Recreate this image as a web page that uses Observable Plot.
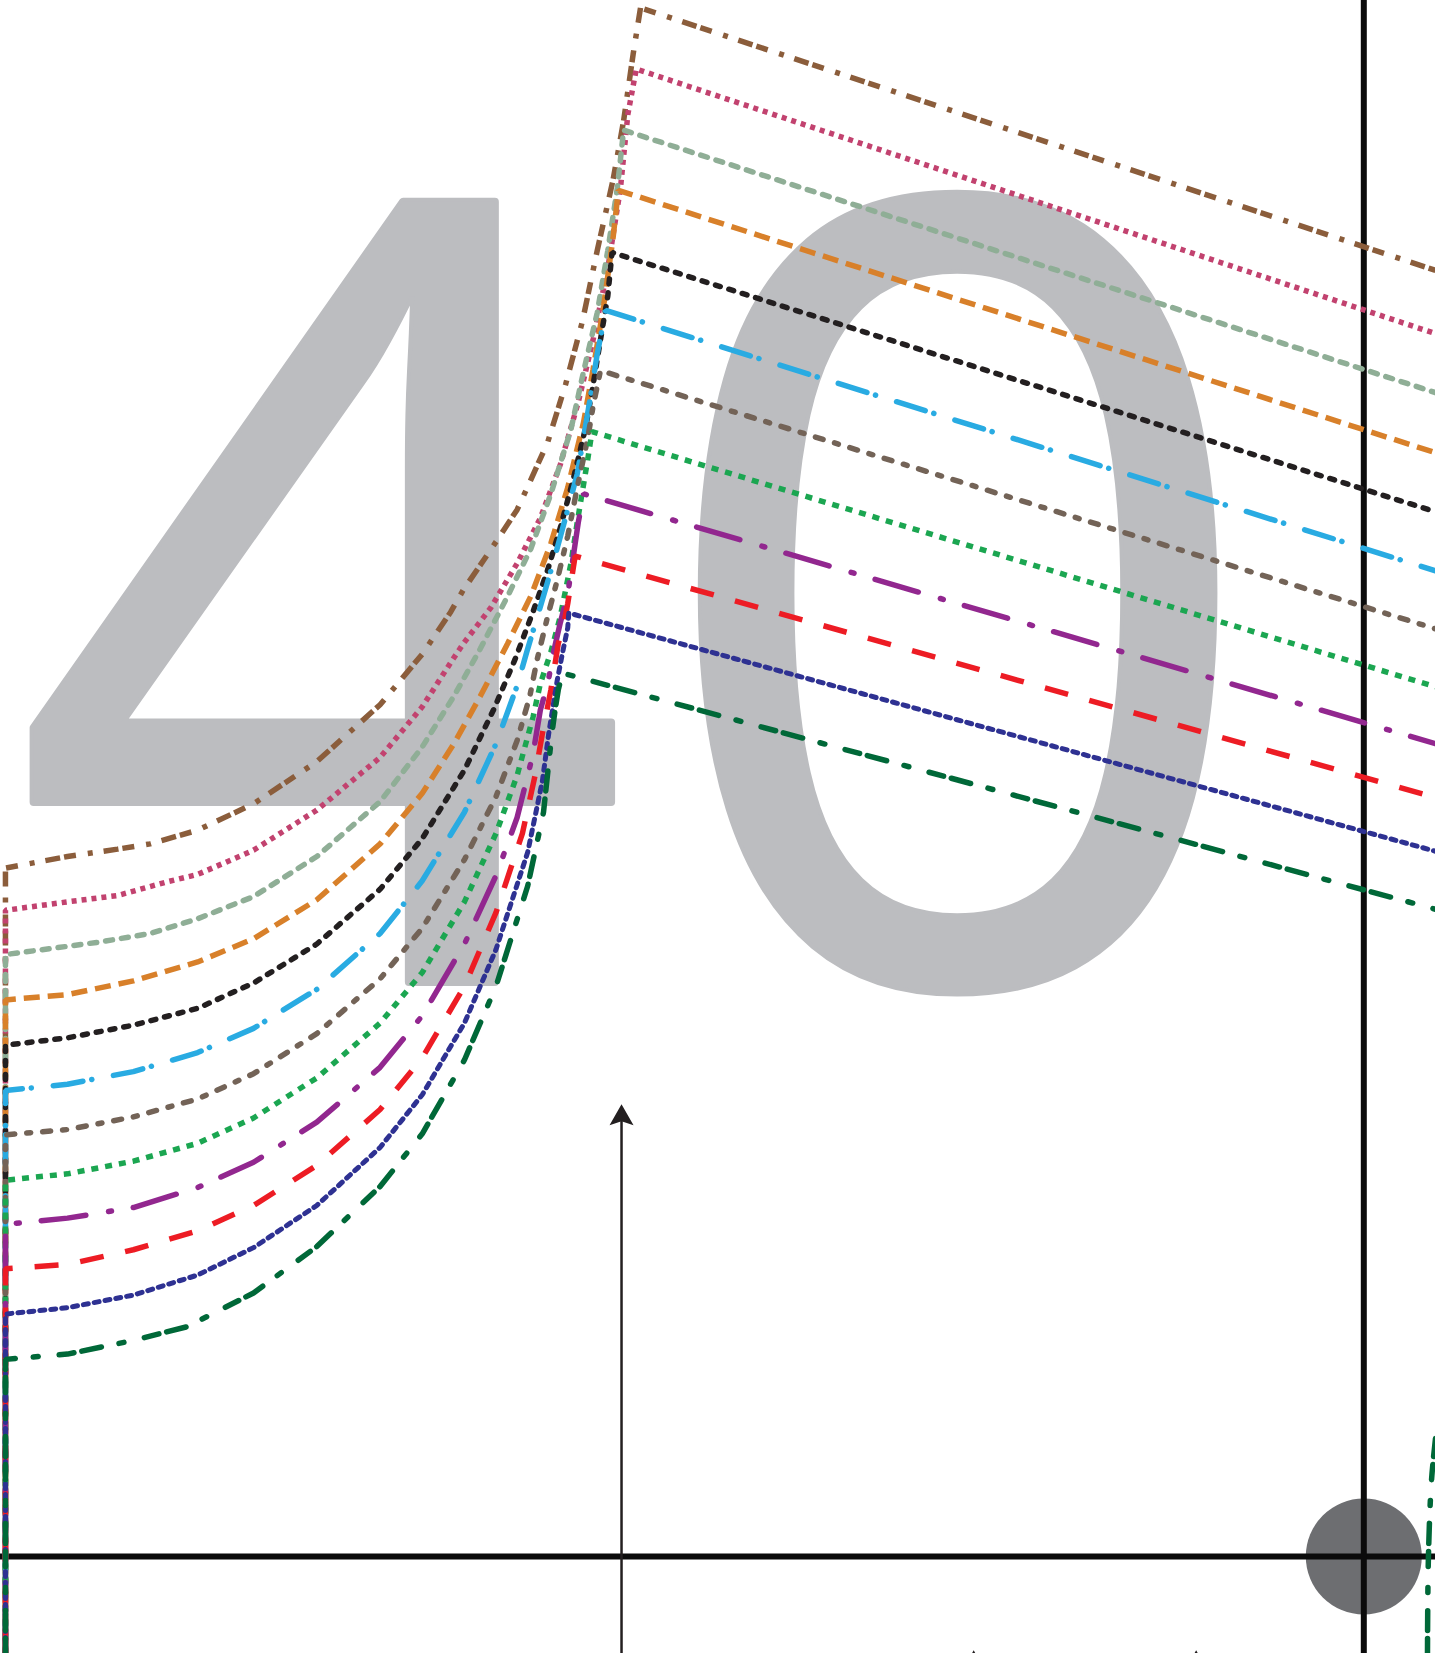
<!DOCTYPE html>
<html><head><meta charset="utf-8">
<script src="https://cdn.jsdelivr.net/npm/d3@7"></script>
<script src="https://cdn.jsdelivr.net/npm/@observablehq/plot@0.6"></script>
<style>html,body{margin:0;padding:0;background:#fff;overflow:hidden}</style>
</head><body><div id="chart"></div>
<script>
// Coordinates are in the reference's own units (x: 0..1361, y: 0..1568 measured downward)
const bigDigits = ["4", "0"];
const digitX = [304, 908];
const digitBaseline = 931;

const seriesNames = ["brown","pink","sage","orange","black","cyan","taupe","green","purple","red","navy","darkgreen"];
const bottomY = 1568;
const leftX = 4.7;

const brown = [[4.7,823],[63.5,812],[111,805],[142,800],[187,787],[240,762],[300,722],[360,668],[400,620],[427,580],[439,559],[465,521],[490,483],[501,459],[519,419],[536,364],[552,304],[566,237],[581,170],[591,114],[600,51],[607,7],[1361,256]];
const pink = [[4.7,863],[63.5,855],[111,849],[158,836],[187,829],[240,806],[300,768],[360,718],[400,670],[427,628],[439,610],[465,576],[490,534],[512,491],[531,440],[548,381],[562,322],[576,254],[588,178],[595,108],[603,65],[1361,316]];
const sage = [[4.7,905],[95,893],[142,885],[187,871],[240,850],[300,812],[360,760],[400,708],[430,660],[455,615],[481,565],[503,520],[522,468],[541,407],[553,352],[566,296],[576,237],[585,178],[591,123],[1361,372]];
const orange = [[4.7,948],[63.5,943],[126,930],[187,912],[240,890],[300,853],[360,800],[400,752],[430,705],[455,660],[481,610],[503,565],[522,515],[538,462],[553,400],[562,350],[572,290],[581,225],[586,180],[1361,429]];
const black = [[4.7,991],[63.5,984],[126,972],[187,956],[240,932],[300,895],[360,843],[400,795],[440,730],[468,672],[488,625],[505,580],[519,540],[531,500],[543,455],[555,405],[562,365],[569,322],[576,280],[580,239],[1361,485]];
const cyan = [[4.7,1034],[63.5,1028],[126,1016],[187,998],[240,975],[300,938],[360,885],[400,835],[440,770],[470,705],[490,650],[500,615],[512,575],[524,534],[538,483],[547,449],[553,415],[560,373],[566,335],[574,294],[1361,541]];
const taupe = [[4.7,1076],[63.5,1071],[126,1059],[187,1042],[240,1018],[300,980],[360,928],[400,880],[440,815],[470,755],[490,702],[502,660],[509,625],[519,584],[528,550],[538,508],[547,462],[557,415],[562,385],[569,351],[1361,596]];
const green = [[4.7,1119],[63.5,1113],[126,1101],[187,1084],[240,1060],[300,1022],[360,970],[400,922],[440,855],[470,790],[490,735],[505,680],[512,648],[522,618],[531,584],[541,534],[547,495],[557,435],[561,409],[1361,651]];
const purple = [[4.7,1161],[63.5,1155],[126,1145],[187,1126],[240,1102],[300,1064],[360,1012],[400,963],[440,895],[470,830],[490,775],[505,715],[512,673],[519,648],[525,616],[531,590],[538,563],[543,529],[548,495],[553,468],[1361,705]];
const red = [[4.7,1203],[63.5,1199],[126,1185],[187,1167],[240,1143],[300,1105],[360,1052],[400,1003],[440,935],[470,865],[495,790],[507,735],[514,695],[522,654],[529,610],[534,593],[538,572],[545,527],[1361,756]];
const navy = [[4.7,1246],[63.5,1240],[126,1228],[187,1209],[240,1183],[300,1143],[360,1088],[400,1038],[440,970],[470,900],[500,808],[514,740],[520,695],[524,670],[528,645],[533,619],[538,595],[539,581],[1361,807]];
const darkgreen = [[4.7,1289],[63.5,1284],[126,1271],[177,1258],[240,1226],[300,1182],[360,1125],[400,1075],[440,1005],[470,935],[500,840],[515,770],[523,695],[526,673],[529,654],[533,638],[1361,862]];
// start of the next dark green curve at the lower right
const darkgreenNext = [[1353.4,1568],[1354.3,1476],[1357.2,1404],[1361,1364]];

const axisY = 1476;      // thick horizontal line
const axisX = 1293;      // thick vertical line
const arrowX = [589];
const arrowTip = 1047;
const smallArrowX = [923, 1134];
const smallArrowTip = 1565;

// styles
const seriesData = [brown,pink,sage,orange,black,cyan,taupe,green,purple,red,navy,darkgreen];
const seriesColor = ["#8b5d3b","#c2426f","#8fae96","#d8802a","#231f20","#29abe2","#736357","#1ba651","#92278f","#ed1c24","#2e3192","#006838"];
const seriesDash = ["15,4,12,12,5,11","5,5","7,9","16,8","5,9","30,9,0.1,22","4,12,8,12","7,7","45,23,3,22","24,22","5,6","15,8,20,18,5,21"];
const seriesCap = ["butt","butt","round","butt","round","round","round","butt","round","butt","round","round"];
const seriesWidth = [5.5,5.5,5.5,5.5,5.5,5.5,5.5,5.5,5.5,5.5,5,5.5];

const arrowHead = {
  draw(context, l) {
    context.moveTo(0, -l);
    context.lineTo(-12, 0);
    context.lineTo(0, -4);
    context.lineTo(12, 0);
    context.closePath();
  }
};

const marks = [
  Plot.text(bigDigits, {x: (d, i) => digitX[i], y: () => digitBaseline, text: d => d,
    fontSize: 1087, fontFamily: "Open Sans", fill: "#bcbdc0", stroke: "#bcbdc0", strokeWidth: 8,
    strokeLinejoin: "round", textAnchor: "middle", lineAnchor: "bottom"}),
  Plot.dot([[axisX, axisY]], {x: d => d[0], y: d => d[1], r: 58, fill: "#6d6e71", stroke: "none"}),
  Plot.ruleY([axisY], {stroke: "#0b0b0b", strokeWidth: 6}),
  Plot.ruleX([axisX], {stroke: "#0b0b0b", strokeWidth: 6}),
  Plot.ruleX(arrowX, {y1: bottomY, y2: arrowTip + 15, stroke: "#231f20", strokeWidth: 2.5}),
  Plot.vector(arrowX, {x: d => d, y: () => arrowTip, length: 21, anchor: "end", shape: arrowHead, fill: "#231f20", stroke: "none"}),
  Plot.vector(smallArrowX, {x: d => d, y: () => smallArrowTip, length: 21, anchor: "end", shape: arrowHead, fill: "#231f20", stroke: "none"})
];

seriesData.forEach((pts, i) => {
  const full = [[leftX, bottomY], ...pts];
  marks.push(Plot.line(full, {x: d => d[0], y: d => d[1], stroke: seriesColor[i], strokeWidth: seriesWidth[i],
    strokeDasharray: seriesDash[i], strokeLinecap: seriesCap[i], strokeLinejoin: "miter", curve: "linear"}));
});
marks.push(Plot.line(darkgreenNext, {x: d => d[0], y: d => d[1], stroke: seriesColor[11], strokeWidth: 5.5,
  strokeDasharray: seriesDash[11], strokeLinecap: "round", curve: "catmull-rom"}));

const chart = Plot.plot({
  width: 1435, height: 1653, margin: 0,
  x: {domain: [0, 1361], axis: null},
  y: {domain: [1568, 0], axis: null},
  clip: true,
  marks
});
document.getElementById("chart").appendChild(chart);
</script>
</body></html>
